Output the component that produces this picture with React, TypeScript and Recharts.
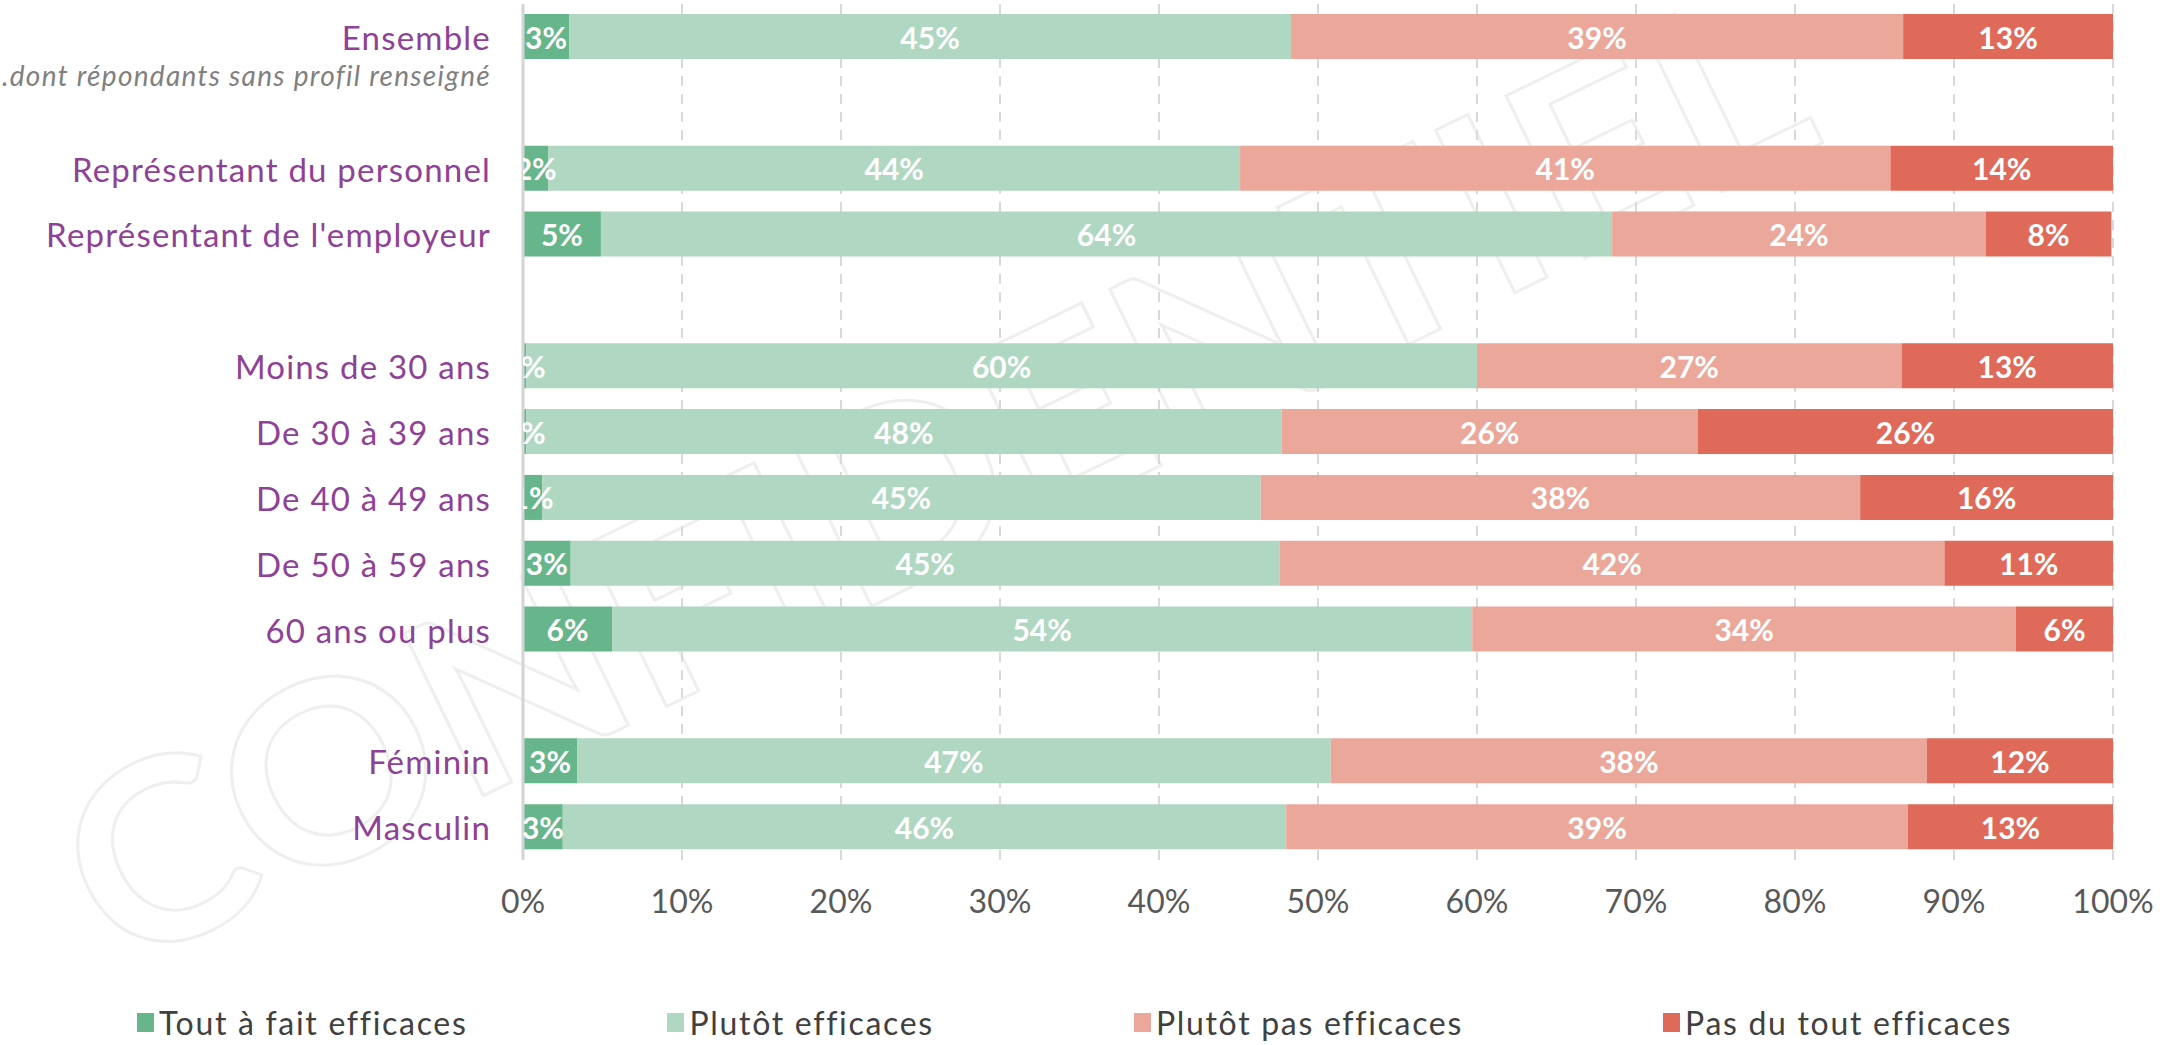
import { BarChart, Bar, XAxis, YAxis, CartesianGrid, LabelList, Legend } from 'recharts'

// catégories (lignes vides = séparateurs)
const categories = [
  'Ensemble',
  '...dont répondants sans profil renseigné',
  'Représentant du personnel',
  "Représentant de l'employeur",
  ' ',
  'Moins de 30 ans',
  'De 30 à 39 ans',
  'De 40 à 49 ans',
  'De 50 à 59 ans',
  '60 ans ou plus',
  '  ',
  'Féminin',
  'Masculin'
]

const toutAFait = [2.9, null, 1.6, 4.9, null, 0.2, 0.2, 1.2, 3.0, 5.6, null, 3.4, 2.5]
const plutot = [45.4, null, 43.5, 63.6, null, 59.8, 47.5, 45.2, 44.6, 54.1, null, 47.4, 45.5]
const plutotPas = [38.5, null, 40.9, 23.5, null, 26.7, 26.2, 37.7, 41.8, 34.2, null, 37.5, 39.1]
const pasDuTout = [13.2, null, 14.0, 7.9, null, 13.3, 26.1, 15.9, 10.6, 6.1, null, 11.7, 12.9]

const xTicks = [0, 10, 20, 30, 40, 50, 60, 70, 80, 90, 100]

const series = [
  { key: 'toutAFait', name: 'Tout à fait efficaces', color: '#67b58a' },
  { key: 'plutot', name: 'Plutôt efficaces', color: '#b0d7c2' },
  { key: 'plutotPas', name: 'Plutôt pas efficaces', color: '#eca79b' },
  { key: 'pasDuTout', name: 'Pas du tout efficaces', color: '#e06a5a' }
]

const data = categories.map((label, i) => ({
  label,
  toutAFait: toutAFait[i],
  plutot: plutot[i],
  plutotPas: plutotPas[i],
  pasDuTout: pasDuTout[i]
}))

const FONT = 'Lato, "Noto Sans", sans-serif'

const YTick = ({ x, y, payload }: any) => {
  const v: string = payload.value
  if (v.startsWith('...')) {
    return (
      <text x={x} y={y - 28} textAnchor="end" dominantBaseline="central" fontFamily={FONT}
        fontStyle="italic" fontSize={28} letterSpacing={1.3} fill="#808080">
        {v}
      </text>
    )
  }
  return (
    <text x={x} y={y} textAnchor="end" dominantBaseline="central" fontFamily={FONT} fontSize={33}
      letterSpacing={1.2} fill="#8e4196">
      {v}
    </text>
  )
}

let clipCount = 0
const makeLabel = (clip: boolean) => (props: any) => {
  const { x, y, width, height, value } = props
  if (value == null) return null
  const id = `lblclip-${clipCount++}`
  const t = (
    <text x={x + width / 2} y={y + height / 2} textAnchor="middle" dominantBaseline="central"
      fontFamily={FONT} fontWeight={700} fontSize={30} fill="#ffffff">
      {`${Math.round(value)}%`}
    </text>
  )
  if (!clip) return t
  return (
    <g>
      <defs>
        <clipPath id={id}>
          <rect x={x} y={y - 10} width={400} height={height + 20} />
        </clipPath>
      </defs>
      <g clipPath={`url(#${id})`}>{t}</g>
    </g>
  )
}

const renderLegend = () => (
  <div style={{ display: 'flex', justifyContent: 'center', alignItems: 'center', gap: 200, height: 46, paddingLeft: 36 }}>
    {series.map(s => (
      <div key={s.key} style={{ display: 'flex', alignItems: 'center' }}>
        <span style={{ width: 17, height: 19, background: s.color, display: 'inline-block', marginRight: 5 }} />
        <span style={{ fontFamily: FONT, fontSize: 32, letterSpacing: 1.7, color: '#404040' }}>{s.name}</span>
      </div>
    ))}
  </div>
)

export default function App() {
  return (
    <div style={{ position: 'absolute', left: 0, top: 0, width: 2164, height: 1045, background: '#fff' }}>
      <svg width={2164} height={1045} style={{ position: 'absolute', left: 0, top: 0 }}>
        <text x={0} y={0} transform="translate(930 470) rotate(-26)" textAnchor="middle" dominantBaseline="central"
          fontFamily={FONT} fontWeight={700} fontSize={250} fill="none" stroke="#efefef" strokeWidth={3}
          textLength={1900} lengthAdjust="spacingAndGlyphs">
          CONFIDENTIEL
        </text>
      </svg>
      <div style={{ position: 'absolute', left: 0, top: 0 }}>
        <BarChart width={2164} height={1045} data={data} layout="vertical" barSize={45}
          margin={{ top: 4, right: 51, bottom: 0, left: 0 }}>
          <CartesianGrid horizontal={false} stroke="#d9d9d9" strokeWidth={2} strokeDasharray="10 8" />
          <XAxis type="number" domain={[0, 100]} ticks={xTicks} tickFormatter={(v: number) => `${v}%`}
            axisLine={false} tickLine={false} tickSize={0} tickMargin={30} height={139}
            tick={{ fontFamily: FONT, fontSize: 32, fill: '#595959' }} />
          <YAxis type="category" dataKey="label" width={523} axisLine={{ stroke: '#d4d4d4', strokeWidth: 3 }}
            tickLine={false} tickSize={0} tickMargin={32} tick={<YTick />} interval={0} />
          {series.map((s, i) => (
            <Bar key={s.key} dataKey={s.key} name={s.name} stackId="a" fill={s.color} isAnimationActive={false}>
              <LabelList dataKey={s.key} content={makeLabel(i === 0)} />
            </Bar>
          ))}
          <Legend verticalAlign="bottom" height={46} content={renderLegend} />
        </BarChart>
      </div>
    </div>
  )
}
